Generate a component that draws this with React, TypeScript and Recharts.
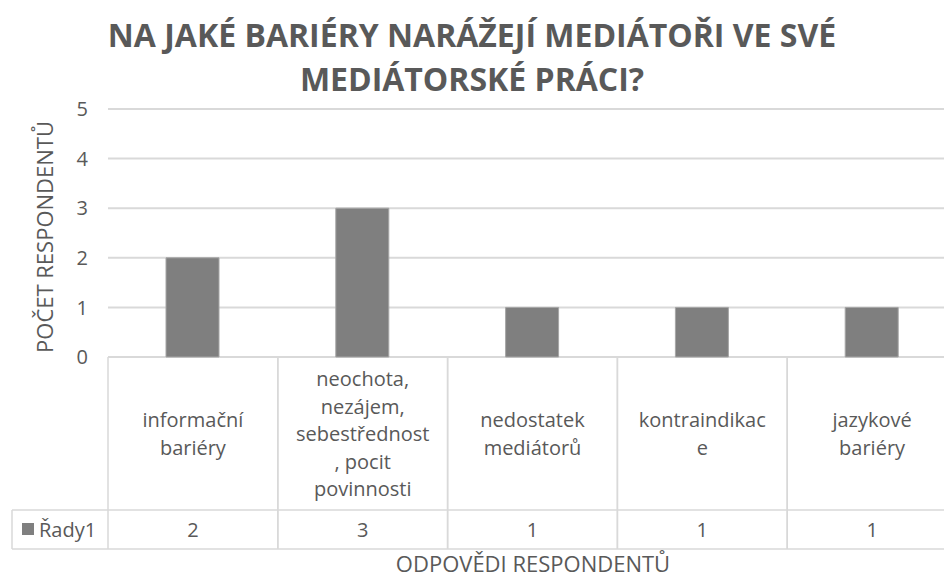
import React from 'react';
import { BarChart, Bar, XAxis, YAxis, CartesianGrid } from 'recharts';

const categories = [
  'informační bariéry',
  'neochota, nezájem, sebestřednost, pocit povinnosti',
  'nedostatek mediátorů',
  'kontraindikace',
  'jazykové bariéry',
];
// wrapped the way the data table shows them
const categoryLines = [
  ['informační', 'bariéry'],
  ['neochota,', 'nezájem,', 'sebestřednost', ', pocit', 'povinnosti'],
  ['nedostatek', 'mediátorů'],
  ['kontraindikac', 'e'],
  ['jazykové', 'bariéry'],
];
const values = [2, 3, 1, 1, 1];
const yTicks = [0, 1, 2, 3, 4, 5];
const seriesName = 'Řady1';

const data = categories.map((name, i) => ({ name, value: values[i] }));

const W = 960;
const H = 579;
const LEFT = 108;
const RIGHT = 3;
const TOP = 109;
const BOTTOM = 222;
const BAND = (W - LEFT - RIGHT) / categories.length;
const TABLE_TOP = H - BOTTOM;
const ROW_SPLIT = 510;
const TABLE_BOTTOM = 549;
const LEGEND_X = 12;
const GRID = '#d9d9d9';
const TEXT = '#595959';
const FONT = '"Open Sans", sans-serif';

function TableTick(props: any) {
  const { x, payload } = props;
  const i = payload.index;
  const half = BAND / 2;
  const lines = categoryLines[i] || [payload.value];
  const lh = 27.5;
  const mid = (TABLE_TOP + ROW_SPLIT) / 2;
  const start = mid - ((lines.length - 1) * lh) / 2;
  return (
    <g>
      <line x1={x - half} x2={x - half} y1={TABLE_TOP} y2={TABLE_BOTTOM} stroke={GRID} strokeWidth={1.5} />
      <line x1={x + half} x2={x + half} y1={TABLE_TOP} y2={TABLE_BOTTOM} stroke={GRID} strokeWidth={1.5} />
      {lines.map((l: string, k: number) => (
        <text key={k} x={x} y={start + k * lh} textAnchor="middle" dominantBaseline="central"
          fill={TEXT} fontSize={20} fontFamily={FONT}>{l}</text>
      ))}
      <text x={x} y={(ROW_SPLIT + TABLE_BOTTOM) / 2} textAnchor="middle" dominantBaseline="central"
        fill={TEXT} fontSize={20} fontFamily={FONT}>{values[i]}</text>
      {i === 0 && (
        <g>
          <line x1={LEGEND_X} x2={W} y1={ROW_SPLIT} y2={ROW_SPLIT} stroke={GRID} strokeWidth={1.5} />
          <line x1={LEGEND_X} x2={W} y1={TABLE_BOTTOM} y2={TABLE_BOTTOM} stroke={GRID} strokeWidth={1.5} />
          <line x1={LEGEND_X} x2={LEGEND_X} y1={ROW_SPLIT} y2={TABLE_BOTTOM} stroke={GRID} strokeWidth={1.5} />
          <rect x={22} y={523} width={12} height={12} fill="#7f7f7f" />
          <text x={39} y={(ROW_SPLIT + TABLE_BOTTOM) / 2} dominantBaseline="central"
            fill={TEXT} fontSize={20} fontFamily={FONT}>{seriesName}</text>
        </g>
      )}
    </g>
  );
}

export default function App() {
  return (
    <div style={{ position: 'fixed', left: 0, top: 0, width: 944, height: 579, overflow: 'hidden', background: '#fff' }}>
      <div style={{ position: 'absolute', left: 0, top: 13, width: 944, textAlign: 'center',
        fontFamily: FONT, fontWeight: 700, fontSize: 32, lineHeight: '44px', color: TEXT }}>
        <div>NA JAKÉ BARIÉRY NARÁŽEJÍ MEDIÁTOŘI VE SVÉ</div>
        <div>MEDIÁTORSKÉ PRÁCI?</div>
      </div>
      <BarChart width={W} height={H} data={data} margin={{ top: TOP, right: RIGHT, bottom: 0, left: 0 }}
        barSize={53} style={{ position: 'absolute', left: 0, top: 0 }}>
        <CartesianGrid vertical={false} stroke={GRID} strokeWidth={2} />
        <XAxis dataKey="name" axisLine={false} tickLine={false} interval={0} tick={<TableTick />} height={BOTTOM} />
        <YAxis width={LEFT} domain={[0, 5]} ticks={yTicks} axisLine={false} tickLine={false}
          tick={{ fill: TEXT, fontSize: 20, fontFamily: FONT }} tickMargin={14}
          label={{ value: 'POČET RESPONDENTŮ', angle: -90, position: 'insideLeft', dx: 40, dy: 4,
            style: { fill: TEXT, fontSize: 22, fontFamily: FONT, textAnchor: 'middle' } }} />
        <Bar dataKey="value" name={seriesName} fill="#7f7f7f" stroke="#a6a6a6" strokeWidth={1} isAnimationActive={false} />
      </BarChart>
      <div style={{ position: 'absolute', left: 0, top: 551, width: 1066, textAlign: 'center',
        fontFamily: FONT, fontSize: 22, color: TEXT, lineHeight: '25px' }}>ODPOVĚDI RESPONDENTŮ</div>
    </div>
  );
}
